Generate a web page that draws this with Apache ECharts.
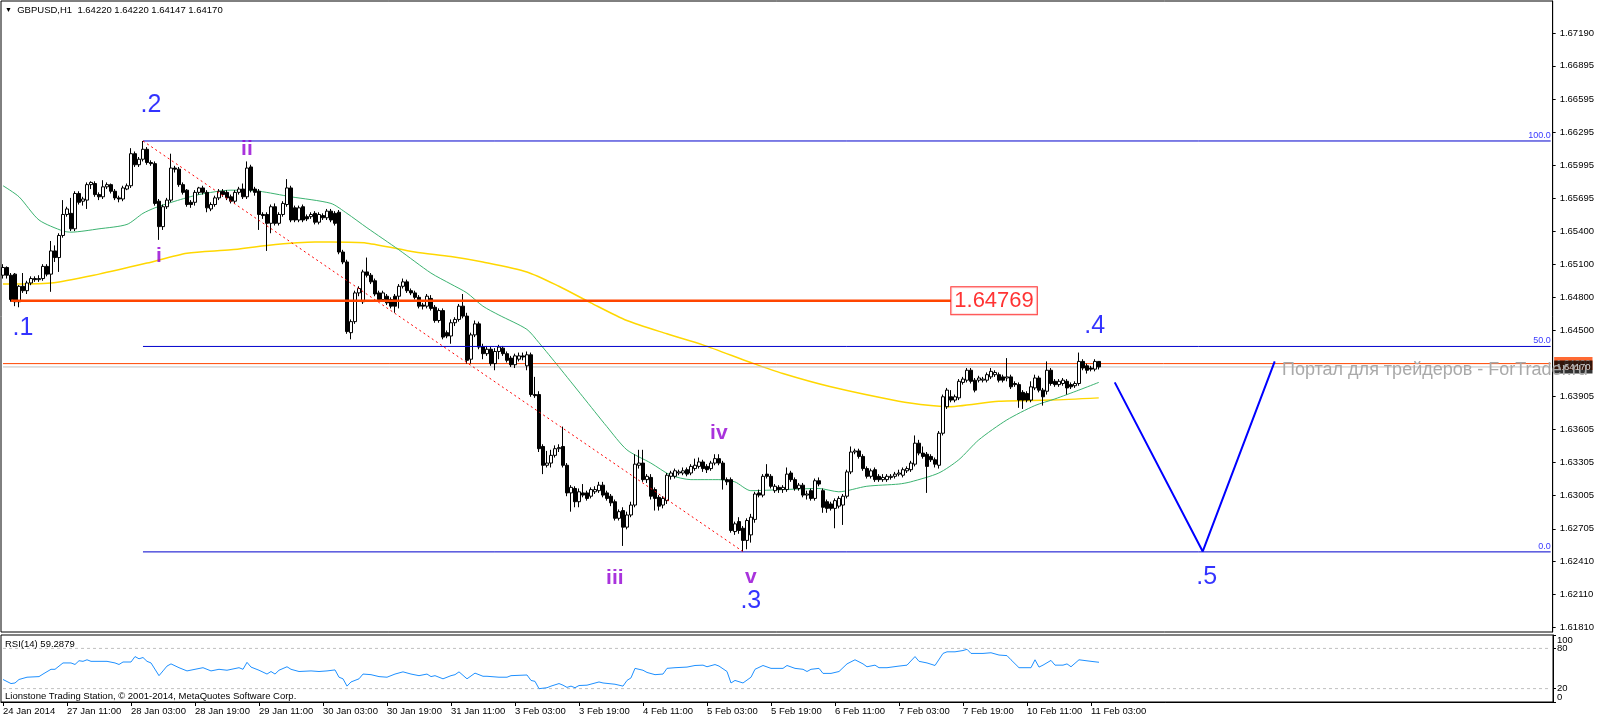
<!DOCTYPE html>
<html><head><meta charset="utf-8">
<script src="https://cdn.jsdelivr.net/npm/echarts@6/dist/echarts.min.js"></script>
<style>html,body{margin:0;padding:0;background:#fff}#c{width:1597px;height:722px}</style>
</head><body><div id="c"></div>
<script>
const FONT = 'Liberation Sans';
const header = 'GBPUSD,H1  1.64220 1.64220 1.64147 1.64170';
const rsiTitle = 'RSI(14) 59.2879';
const copyright = 'Lionstone Trading Station, \u00a9 2001-2014, MetaQuotes Software Corp.';
const watermark = 'Портал для трейдеров - ForTrader.ru';

const priceTicks = [1.67190,1.66895,1.66595,1.66295,1.65995,1.65695,1.65400,1.65100,1.64800,1.64500,1.63905,1.63605,1.63305,1.63005,1.62705,1.62410,1.62110,1.61810];
const rsiTicks = [100,80,20,0];
const rsiLevelLabels = [80,20];
const rsiEdgeLabels = [100,0];
const xTickLabels = ['24 Jan 2014','27 Jan 11:00','28 Jan 03:00','28 Jan 19:00','29 Jan 11:00','30 Jan 03:00','30 Jan 19:00','31 Jan 11:00','3 Feb 03:00','3 Feb 19:00','4 Feb 11:00','5 Feb 03:00','5 Feb 19:00','6 Feb 11:00','7 Feb 03:00','7 Feb 19:00','10 Feb 11:00','11 Feb 03:00'];

// hourly candles [open, close, low, high] from 24 Jan 19:00
const candles = [
[1.6500,1.6507,1.6497,1.6510],[1.6507,1.6500,1.6497,1.6508],[1.6500,1.6478,1.6476,1.6502],[1.6501,1.6476,1.6472,1.6502],
[1.6476,1.6490,1.6471,1.6491],[1.6490,1.6486,1.6484,1.6502],[1.6486,1.6493,1.6483,1.6495],[1.6493,1.6497,1.6491,1.6499],
[1.6497,1.6496,1.6494,1.6499],[1.6496,1.6497,1.6494,1.6500],[1.6497,1.6508,1.6495,1.6510],[1.6508,1.6501,1.6499,1.6510],
[1.6501,1.6522,1.6485,1.6531],[1.6522,1.6516,1.6512,1.6527],[1.6516,1.6536,1.6503,1.6538],[1.6536,1.6555,1.6534,1.6568],
[1.6555,1.6560,1.6553,1.6562],[1.6556,1.6542,1.6540,1.6570],[1.6542,1.6574,1.6540,1.6576],[1.6574,1.6566,1.6564,1.6576],
[1.6567,1.6569,1.6563,1.6571],[1.6568,1.6582,1.6560,1.6584],[1.6582,1.6584,1.6578,1.6585],[1.6583,1.6573,1.6571,1.6585],
[1.6573,1.6571,1.6568,1.6575],[1.6571,1.6580,1.6569,1.6586],[1.6580,1.6582,1.6578,1.6584],[1.6582,1.6576,1.6574,1.6583],
[1.6576,1.6570,1.6568,1.6578],[1.6570,1.6569,1.6566,1.6572],[1.6569,1.6579,1.6567,1.6581],[1.6578,1.6581,1.6577,1.6583],
[1.6581,1.6610,1.6579,1.6615],[1.6610,1.6600,1.6598,1.6612],[1.6600,1.6605,1.6598,1.6607],[1.6605,1.6614,1.6603,1.66215],
[1.6614,1.6602,1.6600,1.6616],[1.6602,1.6601,1.6599,1.6604],[1.6601,1.6565,1.6563,1.6603],[1.6567,1.6544,1.6532,1.6569],
[1.6544,1.6562,1.6541,1.6564],[1.6562,1.6568,1.6560,1.6570],[1.6568,1.6597,1.6566,1.6610],[1.6597,1.6596,1.6593,1.6599],
[1.6596,1.6582,1.6580,1.6598],[1.6582,1.6575,1.6573,1.6584],[1.6577,1.6564,1.6562,1.6578],[1.6566,1.6564,1.6561,1.6568],
[1.6566,1.6575,1.6563,1.6577],[1.6575,1.6579,1.6573,1.6580],[1.6579,1.6575,1.6573,1.6581],[1.6575,1.6561,1.6557,1.6577],
[1.6560,1.6564,1.6558,1.6566],[1.6564,1.6570,1.6562,1.6572],[1.6570,1.6576,1.6568,1.6578],[1.6576,1.6573,1.6571,1.6578],
[1.6575,1.6570,1.6568,1.6577],[1.6571,1.6567,1.6565,1.6573],[1.6567,1.6575,1.6565,1.6577],[1.6575,1.6578,1.6573,1.6580],
[1.6578,1.6571,1.6569,1.6583],[1.6571,1.6597,1.6569,1.6603],[1.6598,1.6577,1.6575,1.6600],[1.6578,1.6575,1.6572,1.6580],
[1.6576,1.6555,1.6541,1.6578],[1.6555,1.6554,1.6551,1.6557],[1.6555,1.6547,1.6522,1.6557],[1.6547,1.6562,1.6538,1.6564],
[1.6562,1.6547,1.6545,1.6565],[1.6547,1.6555,1.6545,1.6557],[1.6555,1.6565,1.6553,1.6567],[1.6564,1.6579,1.6562,1.6587],
[1.6579,1.6550,1.6548,1.6581],[1.6561,1.6550,1.6548,1.6563],[1.6550,1.6561,1.6548,1.6563],[1.6562,1.6550,1.6548,1.6564],
[1.6553,1.6551,1.6549,1.6555],[1.6553,1.6555,1.6551,1.6557],[1.6556,1.6548,1.6546,1.6558],[1.6548,1.6555,1.6546,1.6557],
[1.6554,1.6552,1.6550,1.6556],[1.6552,1.6558,1.6550,1.6560],[1.6558,1.6550,1.6548,1.6560],[1.6556,1.6547,1.6545,1.6558],
[1.6557,1.6521,1.6519,1.6559],[1.6521,1.6512,1.6510,1.6523],[1.6512,1.6449,1.6447,1.6514],[1.6448,1.6458,1.6442,1.6460],
[1.6458,1.6484,1.6456,1.6486],[1.6484,1.6488,1.6481,1.6490],[1.6476,1.6503,1.6474,1.6505],[1.6503,1.6500,1.6498,1.6516],
[1.6500,1.6494,1.6492,1.6502],[1.6495,1.6483,1.6481,1.6497],[1.6484,1.6478,1.6476,1.6486],[1.6478,1.6484,1.6476,1.6486],
[1.6481,1.6475,1.6473,1.6483],[1.6478,1.6472,1.6470,1.6480],[1.6481,1.6472,1.6466,1.6483],[1.6481,1.6490,1.6470,1.6492],
[1.6490,1.6494,1.6488,1.6497],[1.6494,1.6486,1.6484,1.6496],[1.6486,1.6484,1.6482,1.6488],[1.6484,1.6480,1.6478,1.6486],
[1.6480,1.6472,1.6470,1.6482],[1.6473,1.6472,1.6469,1.6475],[1.6472,1.6481,1.6470,1.6483],[1.6479,1.6470,1.6468,1.6482],
[1.6471,1.6459,1.6457,1.6473],[1.6459,1.6468,1.6457,1.6470],[1.6468,1.6444,1.6442,1.6470],[1.6448,1.6445,1.6443,1.6450],
[1.6445,1.6457,1.6438,1.6460],[1.6457,1.6460,1.6454,1.6462],[1.6460,1.6472,1.6458,1.6474],[1.6472,1.6463,1.6461,1.6483],
[1.6463,1.6423,1.6420,1.6466],[1.6424,1.6446,1.6420,1.6448],[1.6446,1.6456,1.6444,1.6459],[1.6456,1.6435,1.6433,1.6458],
[1.6435,1.6429,1.6424,1.6438],[1.6429,1.6433,1.6427,1.6436],[1.6433,1.6420,1.6418,1.6435],[1.6420,1.6431,1.6414,1.6434],
[1.6431,1.6435,1.6424,1.6437],[1.6434,1.6429,1.6427,1.6436],[1.6429,1.6423,1.6421,1.6431],[1.6425,1.6419,1.6417,1.6427],
[1.6419,1.6427,1.6416,1.6429],[1.6424,1.6427,1.6422,1.6430],[1.6427,1.6426,1.6423,1.6430],[1.6418,1.6428,1.6414,1.6431],
[1.6428,1.6392,1.6390,1.6430],[1.6392,1.6391,1.6389,1.6408],[1.6392,1.6343,1.6340,1.6395],[1.6345,1.6328,1.6320,1.6347],
[1.6328,1.6330,1.6326,1.6341],[1.6330,1.6337,1.6326,1.6342],[1.6337,1.6343,1.6335,1.6346],[1.6343,1.6344,1.6340,1.6347],
[1.6345,1.6328,1.6326,1.6363],[1.6328,1.6303,1.6300,1.6330],[1.6303,1.6308,1.6286,1.6310],[1.6307,1.6295,1.6290,1.6309],
[1.6295,1.6304,1.6290,1.6307],[1.6303,1.6301,1.6299,1.6311],[1.6303,1.6298,1.6296,1.6305],[1.6300,1.6306,1.6298,1.6308],
[1.6304,1.6306,1.6302,1.6309],[1.6305,1.6310,1.6303,1.6313],[1.6310,1.6301,1.6299,1.6313],[1.6303,1.6298,1.6296,1.6305],
[1.6300,1.6294,1.6291,1.6302],[1.6295,1.6280,1.6278,1.6297],[1.6280,1.6286,1.6278,1.6288],[1.6287,1.6272,1.6255,1.6290],
[1.6272,1.6283,1.6270,1.6286],[1.6283,1.6292,1.6281,1.6295],[1.6292,1.6329,1.6290,1.6338],[1.6328,1.6330,1.6325,1.6342],
[1.6330,1.6315,1.6313,1.6342],[1.6315,1.6318,1.6312,1.6320],[1.6317,1.6300,1.6297,1.6320],[1.6306,1.6298,1.6287,1.6308],
[1.6299,1.6291,1.6287,1.6301],[1.6292,1.6298,1.6289,1.6300],[1.6296,1.6319,1.6293,1.6321],[1.6318,1.6321,1.6315,1.6323],
[1.6318,1.6323,1.6316,1.6325],[1.6321,1.6322,1.6319,1.6324],[1.6321,1.6323,1.6319,1.6326],[1.6324,1.6320,1.6318,1.6326],
[1.6321,1.6327,1.6319,1.6329],[1.6325,1.6328,1.6323,1.6334],[1.6327,1.6331,1.6325,1.6335],[1.6331,1.6325,1.6322,1.6333],
[1.6327,1.6324,1.6321,1.6329],[1.6325,1.6330,1.6323,1.6332],[1.6330,1.6334,1.6328,1.6338],[1.6334,1.6330,1.6328,1.6338],
[1.6330,1.6315,1.6306,1.6332],[1.6315,1.6313,1.6310,1.6317],[1.6315,1.6269,1.6267,1.6317],[1.6268,1.6275,1.6265,1.6277],
[1.6277,1.6269,1.6266,1.6281],[1.6271,1.6260,1.6250,1.6273],[1.6260,1.6278,1.6252,1.6280],[1.6265,1.6281,1.6258,1.6284],
[1.6279,1.6302,1.6276,1.6304],[1.6303,1.6301,1.6299,1.6306],[1.6301,1.6318,1.6299,1.6320],[1.6320,1.6318,1.6316,1.6329],
[1.6318,1.6309,1.6307,1.6320],[1.6305,1.6309,1.6303,1.6311],[1.6308,1.6306,1.6303,1.6310],[1.6306,1.6308,1.6303,1.6310],
[1.6306,1.6320,1.6304,1.6326],[1.6321,1.6315,1.6313,1.6323],[1.6315,1.6307,1.6305,1.6317],[1.6307,1.6310,1.6305,1.6312],
[1.6310,1.6301,1.6299,1.6312],[1.6301,1.6302,1.6297,1.6305],[1.6305,1.6298,1.6296,1.6307],[1.6298,1.6314,1.6296,1.6316],
[1.6314,1.6311,1.6309,1.6317],[1.6305,1.6290,1.6285,1.6307],[1.6295,1.6289,1.6285,1.6297],[1.6293,1.6289,1.6287,1.6295],
[1.6289,1.6296,1.6271,1.6298],[1.6291,1.6298,1.6289,1.6300],[1.6292,1.6300,1.6274,1.6302],[1.6300,1.6322,1.6298,1.6324],
[1.6322,1.6340,1.6320,1.6345],[1.6340,1.6341,1.6338,1.6343],[1.6341,1.6336,1.6334,1.6343],[1.6336,1.6325,1.6323,1.6338],
[1.6325,1.6318,1.6316,1.6327],[1.6318,1.6323,1.6316,1.6325],[1.6324,1.6315,1.6313,1.6326],[1.6318,1.6315,1.6313,1.6320],
[1.6315,1.6317,1.6313,1.6320],[1.6315,1.6318,1.6313,1.6320],[1.6317,1.6318,1.6315,1.6320],[1.6318,1.6320,1.6316,1.6322],
[1.6320,1.6321,1.6318,1.6324],[1.6319,1.6324,1.6317,1.6326],[1.6323,1.6325,1.6321,1.6327],[1.6324,1.6330,1.6322,1.6332],
[1.6329,1.6348,1.6327,1.6355],[1.6348,1.6339,1.6337,1.6351],[1.6339,1.6336,1.6334,1.6345],[1.6338,1.6327,1.6303,1.6340],
[1.6336,1.6333,1.6331,1.6338],[1.6333,1.6329,1.6326,1.6335],[1.6328,1.6357,1.6325,1.6359],[1.6357,1.6390,1.6355,1.6392],
[1.6381,1.6396,1.6379,1.6398],[1.6390,1.6387,1.6385,1.6396],[1.6387,1.6390,1.6385,1.6392],[1.6389,1.6404,1.6387,1.6406],
[1.6403,1.6406,1.6401,1.6408],[1.6405,1.6414,1.6403,1.6416],[1.6414,1.6404,1.6402,1.6416],[1.6405,1.6396,1.6394,1.6407],
[1.6405,1.6407,1.6403,1.6409],[1.6405,1.6406,1.6403,1.6408],[1.6405,1.6410,1.6403,1.6412],[1.6408,1.6413,1.6406,1.6416],
[1.6410,1.6412,1.6408,1.6414],[1.6410,1.6405,1.6403,1.6412],[1.6408,1.6405,1.6403,1.6410],[1.6407,1.6408,1.6404,1.6425],
[1.6408,1.6399,1.6397,1.6410],[1.6402,1.6401,1.6399,1.6404],[1.6401,1.6387,1.6380,1.6403],[1.6394,1.6387,1.6379,1.6396],
[1.6393,1.6387,1.6385,1.6395],[1.6387,1.6399,1.6385,1.6404],[1.6398,1.6407,1.6396,1.6410],[1.6407,1.6396,1.6394,1.6409],
[1.6396,1.6390,1.6382,1.6398],[1.6395,1.6414,1.6392,1.6422],[1.6414,1.6402,1.6400,1.6416],[1.6404,1.6401,1.6399,1.6406],
[1.6401,1.6404,1.6399,1.6406],[1.6402,1.6405,1.6400,1.6407],[1.6404,1.6398,1.6392,1.6406],[1.6401,1.6399,1.6397,1.6403],
[1.6400,1.6402,1.6398,1.6404],[1.6402,1.6422,1.6400,1.6430],[1.6422,1.6416,1.6414,1.6424],[1.6418,1.6414,1.6411,1.6420],
[1.6416,1.6415,1.6413,1.6418],[1.6415,1.6422,1.6413,1.6424],[1.64220,1.64170,1.64147,1.64220]
];

// moving averages: [bar index, price]
const maFast = [[0,1.6581],[4,1.6571],[9,1.6550],[15,1.6540],[17,1.6539],[24,1.6542],[31,1.6546],[35,1.6556],[38,1.6561],[43,1.6567],[49,1.6573],[57,1.6577],[64,1.6576],[72,1.6571],[82,1.6565],[86,1.6556],[91,1.6543],[99,1.6523],[107,1.6502],[112,1.6492],[116,1.6484],[120,1.6472],[124,1.6464],[131,1.6451],[134,1.6439],[139,1.6417],[145,1.6390],[151,1.6363],[156,1.6342],[162,1.6330],[167,1.6319],[172,1.6315],[179,1.6315],[183,1.6313],[187,1.6305],[195,1.6306],[204,1.6307],[209,1.6304],[216,1.6309],[224,1.6311],[227,1.6313],[234,1.6321],[239,1.6333],[244,1.6351],[251,1.6369],[258,1.6382],[263,1.6388],[269,1.6396],[274,1.6403]];
const maSlow = [[0,1.6492],[12,1.6493],[24,1.6501],[36,1.6511],[46,1.6520],[57,1.6523],[66,1.6527],[78,1.6530],[82,1.6530],[91,1.6529],[103,1.6521],[112,1.6517],[120,1.6512],[131,1.6503],[139,1.6490],[147,1.6475],[156,1.6459],[166,1.6447],[175,1.6437],[187,1.6421],[195,1.6411],[207,1.6399],[224,1.6386],[232,1.6382],[236,1.6381],[249,1.6386],[262,1.6387],[274,1.6389]];

// RSI(14): [bar index, value]
const rsi = [[0,33.6],[2,27.5],[3,28.4],[4,33.6],[6,37],[9,37.9],[10,41.7],[12,48.8],[13,48.8],[15,58.3],[17,58.3],[18,56],[19,61.6],[20,60.7],[21,63],[22,60.7],[24,60.7],[26,60.7],[28,58.3],[29,56],[30,59.7],[32,59.7],[33,67.8],[34,64.5],[35,66.4],[36,60.7],[37,58.3],[39,39.3],[40,46.4],[41,53.6],[42,56.9],[44,51.2],[46,46.4],[48,48.8],[50,51.2],[52,46.4],[54,48.8],[56,47.4],[59,51.2],[60,48.8],[61,59.2],[62,52.1],[64,47.4],[66,41.7],[67,45.5],[68,41.7],[69,47.4],[71,52.6],[72,48.8],[74,45.5],[77,46.4],[79,45.5],[81,46.4],[83,47.9],[84,37],[85,34.6],[86,23.7],[87,29.9],[89,34.6],[90,41.7],[92,40.8],[94,37.9],[96,37],[98,41.7],[100,45],[102,41.7],[104,39.3],[106,41.7],[107,37.9],[108,39.3],[110,34.6],[112,39.3],[113,40.8],[114,45],[116,34.6],[118,43.1],[120,38.4],[121,38.4],[124,37],[126,37],[127,39.3],[131,40.3],[132,32.2],[133,30.8],[134,19.9],[136,21.3],[137,23.7],[139,27.5],[140,25.1],[141,21.8],[142,23.7],[143,21.3],[144,24.6],[146,25.1],[149,29.9],[150,28.4],[153,26.5],[154,25.1],[155,23.7],[156,32.2],[157,36],[158,50.2],[160,47.4],[161,44.1],[163,40.8],[165,41.7],[166,50.2],[168,51.2],[171,52.1],[173,54.5],[175,55],[176,52.6],[178,55.9],[179,53.6],[181,45.5],[182,28.4],[183,32.2],[185,28.4],[187,37],[188,48.8],[190,54.5],[192,50.2],[195,50.2],[196,54.5],[198,50.2],[200,48.8],[201,45.5],[202,48.8],[204,50.2],[205,42.7],[207,42.7],[209,45.5],[211,56.9],[213,63],[215,56.9],[216,52.6],[218,55],[219,51.2],[221,51.2],[224,53.6],[226,55],[228,67.8],[229,60.7],[231,58.3],[233,54.5],[235,72.5],[236,74.9],[238,74.9],[240,76.8],[241,78.7],[242,72.5],[245,72.5],[247,73.5],[249,70.1],[251,69.2],[252,63],[254,51.2],[257,51.2],[258,63],[259,52.1],[260,55],[262,62.1],[263,55],[265,55],[266,56.9],[267,52.6],[269,63],[272,60.7],[274,59.2879]];

// objects drawn on the chart
const fibPrices = [1.66215, 1.643555, 1.62496];
const fibNames = ['100.0', '50.0', '0.0'];
const fibStart = 35;
const fibTrend = [[35, 1.66215], [185, 1.6250]];
const levelPrice = 1.64769;
const levelSpan = [2, 237];
const hLine = 1.64200;
const bidPrice = 1.64170;
const vLine = [[278, 1.6403], [300, 1.6250], [318, 1.6422]];
const blueWaves = [['.1', 5, 1.6452], ['.2', 37, 1.6654], ['.3', 187, 1.6205], ['.4', 273, 1.6454], ['.5', 301, 1.6227]];
const purpleWaves = [['i', 39, 1.6517], ['ii', 61, 1.6614], ['iii', 153, 1.6226], ['iv', 179, 1.6357], ['v', 187, 1.6227]];

// time categories (hourly, weekends skipped)
const barCount = 388;
const MON = ['Jan','Feb','Mar'];
const categories = [];
let t = Date.UTC(2014, 0, 24, 19);
while (categories.length < barCount) {
  const d = new Date(t);
  const wd = d.getUTCDay();
  if (wd !== 0 && wd !== 6) {
    categories.push(d.getUTCDate() + ' ' + MON[d.getUTCMonth()] + ' ' + String(d.getUTCHours()).padStart(2, '0') + ':00');
  }
  t += 3600000;
}
const tickSet = new Set(xTickLabels.slice(1));
const showTick = (idx, val) => idx === 0 || tickSet.has(val);
const lastIdx = barCount - 1;

const FS = 9.5;
const txt = () => ({fontFamily: FONT, fontSize: FS, color: '#000', fontWeight: 'normal'});
const HIDDEN = {color: 'rgba(0,0,0,0)'};
const tag = (price, bg, z) => ({type: 'scatter', xAxisIndex: 0, yAxisIndex: 0, symbolSize: 1, itemStyle: HIDDEN, z: z, silent: true, clip: false,
  data: [{value: [lastIdx, price]}],
  label: {show: true, position: 'right', distance: 3, formatter: price.toFixed(5), backgroundColor: bg, color: '#fff', fontFamily: FONT, fontSize: FS, padding: [2, 2, 1, 2]}});

const series = [];
series.push({type: 'line', xAxisIndex: 0, yAxisIndex: 0, data: maSlow, symbol: 'none', smooth: 0.25, lineStyle: {color: '#FFD700', width: 1.5}, z: 2, silent: true});
series.push({type: 'line', xAxisIndex: 0, yAxisIndex: 0, data: maFast, symbol: 'none', smooth: 0.25, lineStyle: {color: '#3CB371', width: 1}, z: 2, silent: true});
series.push({type: 'line', xAxisIndex: 0, yAxisIndex: 0, data: [[0, hLine], [lastIdx, hLine]], symbol: 'none', lineStyle: {color: '#FF4500', width: 1}, z: 2, silent: true});
series.push({type: 'line', xAxisIndex: 0, yAxisIndex: 0, data: [[0, bidPrice], [lastIdx, bidPrice]], symbol: 'none', lineStyle: {color: '#C0C0C0', width: 1}, z: 2, silent: true});
series.push({
  type: 'candlestick', xAxisIndex: 0, yAxisIndex: 0, data: candles, barWidth: 3, z: 3, silent: true,
  itemStyle: {color: '#ffffff', color0: '#000000', borderColor: '#000000', borderColor0: '#000000', borderWidth: 1}
});
fibPrices.forEach((p) => {
  series.push({type: 'line', xAxisIndex: 0, yAxisIndex: 0, data: [[fibStart, p], [lastIdx, p]], symbol: 'none', lineStyle: {color: '#0000CD', width: 1}, z: 4, silent: true});
});
series.push({type: 'scatter', xAxisIndex: 0, yAxisIndex: 0, symbolSize: 2, itemStyle: HIDDEN, z: 6, silent: true,
  data: fibPrices.map((p, k) => ({value: [lastIdx, p], label: {formatter: fibNames[k]}})),
  label: {show: true, position: [1, 0], align: 'right', verticalAlign: 'bottom', color: '#0000FF', fontFamily: FONT, fontSize: 9}});
series.push({type: 'line', xAxisIndex: 0, yAxisIndex: 0, data: fibTrend, symbol: 'none', lineStyle: {color: '#FF0000', width: 1, type: [2, 3]}, z: 4, silent: true});
series.push({type: 'line', xAxisIndex: 0, yAxisIndex: 0, data: [[levelSpan[0], levelPrice], [levelSpan[1], levelPrice]], symbol: 'none', lineStyle: {color: '#FF4500', width: 2.5}, z: 4, silent: true});
series.push({type: 'scatter', xAxisIndex: 0, yAxisIndex: 0, symbolSize: 1, itemStyle: HIDDEN, z: 7, silent: true,
  data: [{value: [levelSpan[1], levelPrice]}],
  label: {show: true, position: 'right', distance: 0, formatter: levelPrice.toFixed(5), color: '#FF0000', fontFamily: FONT, fontSize: 22,
    backgroundColor: '#ffffff', borderColor: '#FF0000', borderWidth: 1, padding: [3, 3, 0, 3], lineHeight: 24}});
series.push({type: 'line', xAxisIndex: 0, yAxisIndex: 0, data: vLine, symbol: 'none', lineStyle: {color: '#0000FF', width: 2}, z: 4, silent: true});
series.push({type: 'scatter', xAxisIndex: 0, yAxisIndex: 0, symbolSize: 1, itemStyle: HIDDEN, z: 8, silent: true,
  data: blueWaves.map(w => ({value: [w[1], w[2]], name: w[0]})),
  label: {show: true, position: 'inside', formatter: p => p.name, color: '#0000FF', fontFamily: FONT, fontSize: 25}});
series.push({type: 'scatter', xAxisIndex: 0, yAxisIndex: 0, symbolSize: 1, itemStyle: HIDDEN, z: 8, silent: true,
  data: purpleWaves.map(w => ({value: [w[1], w[2]], name: w[0]})),
  label: {show: true, position: 'inside', formatter: p => p.name, color: '#9400D3', fontFamily: FONT, fontSize: 21, fontWeight: 'bold'}});
series.push(tag(hLine, '#FF4500', 19));
series.push(tag(bidPrice, '#000000', 21));
series.push({type: 'line', xAxisIndex: 1, yAxisIndex: 1, data: rsi, symbol: 'none', lineStyle: {color: '#1E90FF', width: 1}, z: 3, silent: true});
series.push({type: 'line', xAxisIndex: 1, yAxisIndex: 1, data: [[0, 80], [lastIdx, 80]], symbol: 'none', lineStyle: {color: '#C0C0C0', width: 1, type: [3, 3]}, z: 2, silent: true});
series.push({type: 'line', xAxisIndex: 1, yAxisIndex: 1, data: [[0, 20], [lastIdx, 20]], symbol: 'none', lineStyle: {color: '#C0C0C0', width: 1, type: [3, 3]}, z: 2, silent: true});

const option = {
  animation: false,
  backgroundColor: '#ffffff',
  textStyle: {fontFamily: FONT},
  title: [
    {text: '{t|\u25BC}  ' + header, left: 5, top: 5, padding: 0, textStyle: Object.assign(txt(), {rich: {t: {fontSize: 7, fontFamily: FONT, color: '#000'}}})},
    {text: rsiTitle, left: 5, top: 639, padding: 0, textStyle: txt()},
    {text: copyright, left: 5, top: 691, padding: 0, textStyle: txt()}
  ],
  graphic: [{type: 'text', left: 1282, top: 361, z: 100, silent: true,
    style: {text: watermark, font: '18px "Liberation Sans"', fill: '#A9A9A9'}}],
  grid: [
    {left: 1, top: 1, width: 1552, height: 631, show: true, borderColor: '#000', borderWidth: 1},
    {left: 1, top: 635, width: 1552, height: 67, show: true, borderColor: '#000', borderWidth: 1}
  ],
  xAxis: [
    {type: 'category', gridIndex: 0, data: categories, boundaryGap: true, axisLine: {show: false}, axisTick: {show: false}, axisLabel: {show: false}, splitLine: {show: false}},
    {type: 'category', gridIndex: 1, data: categories, boundaryGap: true,
     axisLine: {show: true, lineStyle: {color: '#000'}},
     axisTick: {show: true, alignWithLabel: true, interval: showTick, length: 4, lineStyle: {color: '#000'}},
     axisLabel: Object.assign(txt(), {interval: showTick, formatter: (v, i) => i === 0 ? xTickLabels[0] : v, align: 'left', margin: 4, hideOverlap: false}),
     splitLine: {show: false}}
  ],
  yAxis: [
    {type: 'value', gridIndex: 0, position: 'right', min: 1.61771, max: 1.67482,
     splitLine: {show: false},
     axisLine: {show: true, lineStyle: {color: '#000'}},
     axisTick: {show: true, customValues: priceTicks, length: 3, lineStyle: {color: '#000'}},
     axisLabel: Object.assign(txt(), {customValues: priceTicks, formatter: v => v.toFixed(5), margin: 7, hideOverlap: false})},
    {type: 'value', gridIndex: 1, position: 'right', min: 0, max: 100,
     splitLine: {show: false},
     axisLine: {show: true, lineStyle: {color: '#000'}},
     axisTick: {show: true, customValues: rsiTicks, length: 3, lineStyle: {color: '#000'}},
     axisLabel: Object.assign(txt(), {customValues: rsiLevelLabels, margin: 4, hideOverlap: false, formatter: v => String(v)})},
    {type: 'value', gridIndex: 1, position: 'right', min: 0, max: 100,
     splitLine: {show: false}, axisLine: {show: false}, axisTick: {show: false},
     axisLabel: Object.assign(txt(), {customValues: rsiEdgeLabels, margin: 4, showMinLabel: true, showMaxLabel: true, hideOverlap: false,
       formatter: v => v === 100 ? '{t|100}' : '{b|0}',
       rich: {t: {padding: [10, 0, 0, 0], fontSize: FS, fontFamily: FONT, color: '#000'},
              b: {padding: [0, 0, 10, 0], fontSize: FS, fontFamily: FONT, color: '#000'}}})}
  ],
  series: series
};
const chart = echarts.init(document.getElementById('c'));
chart.setOption(option);
</script>
</body></html>
